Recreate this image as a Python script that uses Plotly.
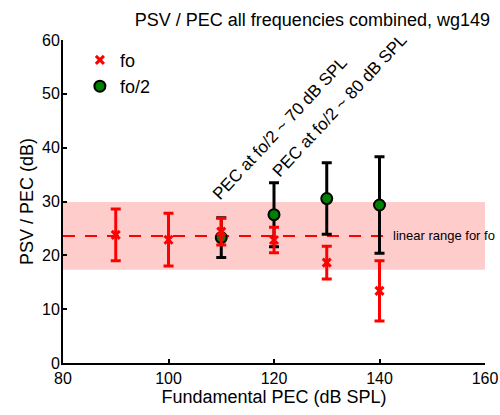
import plotly.graph_objects as go

# Data
fo_x = [90, 100, 110, 120, 130, 140]
fo_y = [23.8, 22.9, 24.4, 22.85, 18.65, 13.4]
fo_err = [4.8, 4.9, 2.5, 2.35, 3.05, 5.6]

fo2_x = [110, 120, 130, 140]
fo2_y = [23.3, 27.55, 30.55, 29.35]
fo2_err = [3.7, 5.95, 6.65, 8.95]

band_mean = 23.6
band_sd = 6.3
line_end_x = 142.5

FONT = "Liberation Sans, Arial, Helvetica, sans-serif"

fig = go.Figure()

# pink linear range band
fig.add_shape(type="rect", xref="x", yref="y", x0=80, x1=160,
              y0=band_mean - band_sd, y1=band_mean + band_sd,
              fillcolor="rgba(255,204,204,1)", line_width=0, layer="below")
fig.add_shape(type="line", xref="x", yref="y", x0=80, x1=line_end_x,
              y0=band_mean, y1=band_mean,
              line=dict(color="red", width=2, dash="12px,10px"), layer="below")

fig.add_trace(go.Scatter(
    x=fo2_x, y=fo2_y, mode="markers", name="fo/2", legendrank=2,
    marker=dict(symbol="circle", size=11, color="green",
                line=dict(color="black", width=2)),
    error_y=dict(type="data", array=fo2_err, color="black", thickness=3, width=5),
))
fig.add_trace(go.Scatter(
    x=fo_x, y=fo_y, mode="markers", name="fo", legendrank=1,
    marker=dict(symbol="x-thin", size=8, color="red",
                line=dict(color="red", width=3)),
    error_y=dict(type="data", array=fo_err, color="red", thickness=3, width=5),
))

fig.add_annotation(x=line_end_x, y=band_mean, xref="x", yref="y",
                   text="linear range for fo", showarrow=False,
                   xanchor="left", yanchor="middle", xshift=-2,
                   font=dict(size=13, color="black", family=FONT))
fig.add_annotation(x=121.1, y=43.6, xref="x", yref="y",
                   text="PEC at fo/2 ~ 70 dB SPL", showarrow=False,
                   textangle=-47, xanchor="center", yanchor="middle",
                   font=dict(size=17, color="black", family=FONT))
fig.add_annotation(x=132.5, y=47.8, xref="x", yref="y",
                   text="PEC at fo/2 ~ 80 dB SPL", showarrow=False,
                   textangle=-47, xanchor="center", yanchor="middle",
                   font=dict(size=17, color="black", family=FONT))

fig.update_layout(
    width=500, height=415,
    margin=dict(l=63, r=15, t=40, b=52),
    paper_bgcolor="white", plot_bgcolor="white",
    font=dict(family=FONT, size=18, color="black"),
    title=dict(text="PSV / PEC all frequencies combined, wg149",
               x=490/500, xanchor="right", y=1-20/415, yanchor="middle",
               font=dict(size=18, family=FONT, color="black")),
    showlegend=True,
    legend=dict(x=0.04, y=0.995, xanchor="left", yanchor="top",
                bgcolor="rgba(0,0,0,0)", font=dict(size=18, family=FONT),
                itemwidth=30, tracegroupgap=0),
    xaxis=dict(range=[80, 160], tickvals=[80, 100, 120, 140, 160],
               showgrid=False, zeroline=False, showline=True, linecolor="black",
               linewidth=2, ticks="inside", ticklen=4, tickwidth=2, tickcolor="black",
               automargin=False, ticklabelstandoff=0,
               title=dict(text="Fundamental PEC (dB SPL)", standoff=3,
                          font=dict(size=18)),
               tickfont=dict(size=16)),
    yaxis=dict(range=[0, 60], tickvals=[0, 10, 20, 30, 40, 50, 60],
               showgrid=False, zeroline=False, showline=True, linecolor="black",
               linewidth=2, ticks="inside", ticklen=4, tickwidth=2, tickcolor="black",
               automargin=False, ticklabelstandoff=-2,
               title=dict(text="PSV / PEC (dB)", standoff=4, font=dict(size=18)),
               tickfont=dict(size=16)),
)

fig.write_html("out.html")
